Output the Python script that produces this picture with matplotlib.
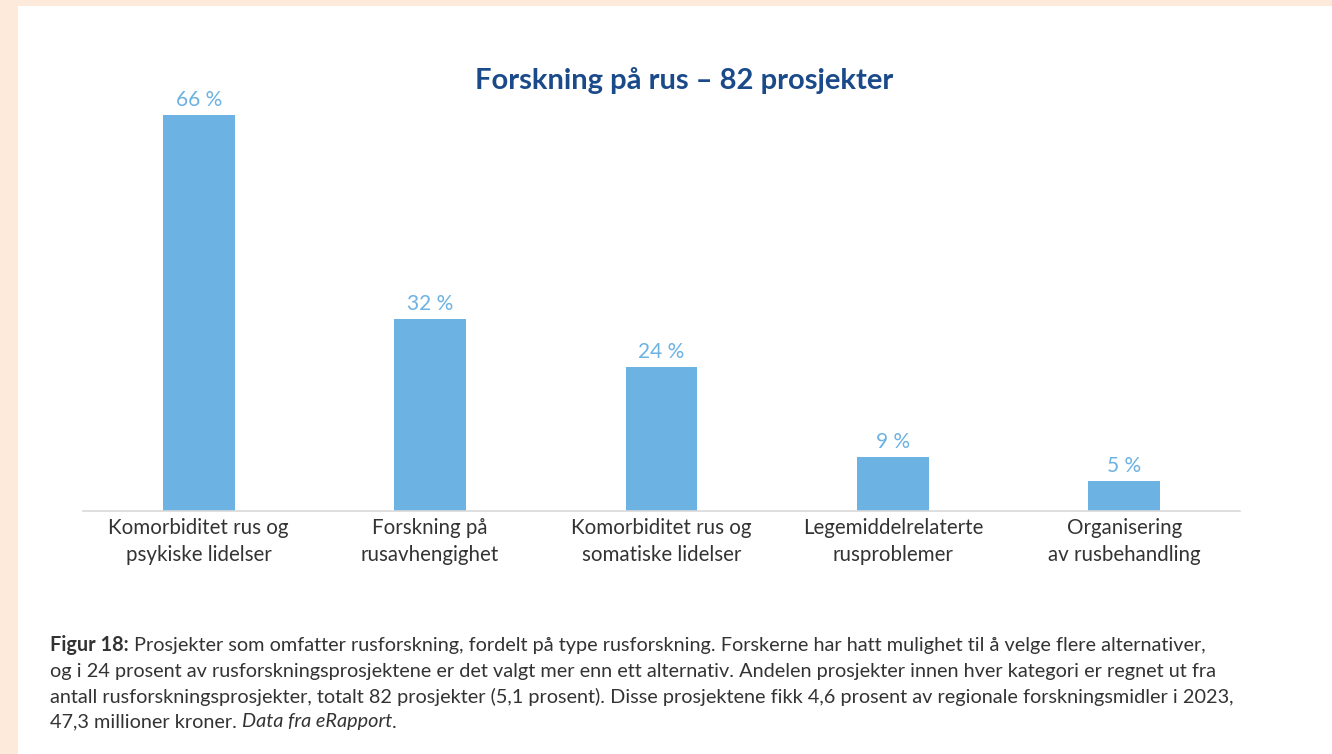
import matplotlib.pyplot as plt
from matplotlib.patches import Rectangle

categories = [
    "Komorbiditet rus og\npsykiske lidelser",
    "Forskning på\nrusavhengighet",
    "Komorbiditet rus og\nsomatiske lidelser",
    "Legemiddelrelaterte\nrusproblemer",
    "Organisering\nav rusbehandling",
]
values = [66, 32, 24, 9, 5]
value_labels = ["66 %", "32 %", "24 %", "9 %", "5 %"]

title = "Forskning på rus – 82 prosjekter"
caption_lines = [
    "Prosjekter som omfatter rusforskning, fordelt på type rusforskning. Forskerne har hatt mulighet til å velge flere alternativer,",
    "og i 24 prosent av rusforskningsprosjektene er det valgt mer enn ett alternativ. Andelen prosjekter innen hver kategori er regnet ut fra",
    "antall rusforskningsprosjekter, totalt 82 prosjekter (5,1 prosent). Disse prosjektene fikk 4,6 prosent av regionale forskningsmidler i 2023,",
    "47,3 millioner kroner. ",
]

bar_color = "#6cb2e2"
label_color = "#6cb2e2"
title_color = "#1b4a8a"
text_color = "#333333"
peach = "#fdeadb"

plt.rcParams['font.family'] = ['Lato', 'DejaVu Sans']

W, H = 1332, 754
fig = plt.figure(figsize=(W / 100, H / 100), dpi=100)
fig.patch.set_facecolor(peach)
fig.patches.append(Rectangle((18 / W, 0), 1, 1 - 6 / H, transform=fig.transFigure,
                             facecolor="white", edgecolor="none", zorder=-1))

ax = fig.add_axes([83 / W, 1 - 511 / H, (1240 - 83) / W, (511 - 91) / H])
ax.set_facecolor("none")
x = range(len(values))
bars = ax.bar(x, values, width=0.31, color=bar_color)
for b, lbl in zip(bars, value_labels):
    ax.text(b.get_x() + b.get_width() / 2, b.get_height() + 0.8, lbl,
            ha="center", va="bottom", color=label_color, fontsize=15)

ax.set_xlim(-0.5, len(values) - 0.5)
ax.set_ylim(0, 70)
ax.set_yticks([])
ax.set_xticks(list(x))
ax.set_xticklabels(categories, fontsize=14.8, color=text_color, linespacing=1.45)
ax.tick_params(axis="x", length=0, pad=5)
for s in ["top", "right", "left"]:
    ax.spines[s].set_visible(False)
ax.spines["bottom"].set_color("#d9d9d9")
ax.spines["bottom"].set_linewidth(1.2)

fig.text(684 / W, 1 - 80 / H, title, ha="center", va="center",
         fontsize=21, fontweight="bold", color=title_color)

# caption with mixed bold / italic runs
renderer = fig.canvas.get_renderer()
x0 = 50 / W
fs = 14.3
line_y = [645, 671, 697, 722]
for i, (line, yy) in enumerate(zip(caption_lines, line_y)):
    ypos = 1 - yy / H
    xpos = x0
    if i == 0:
        t = fig.text(xpos, ypos, "Figur 18: ", fontsize=fs, fontweight="bold",
                     color=text_color, va="center")
        xpos = fig.transFigure.inverted().transform(
            (t.get_window_extent(renderer).x1, 0))[0]
    t = fig.text(xpos, ypos, line, fontsize=fs, color=text_color, va="center")
    if i == 3:
        xpos = fig.transFigure.inverted().transform(
            (t.get_window_extent(renderer).x1, 0))[0]
        t = fig.text(xpos, ypos, "Data fra eRapport", fontsize=fs, style="italic",
                     color=text_color, va="center")
        xpos = fig.transFigure.inverted().transform(
            (t.get_window_extent(renderer).x1, 0))[0]
        fig.text(xpos, ypos, ".", fontsize=fs, color=text_color, va="center")

fig.savefig("out.png", dpi=100, facecolor=fig.get_facecolor())
